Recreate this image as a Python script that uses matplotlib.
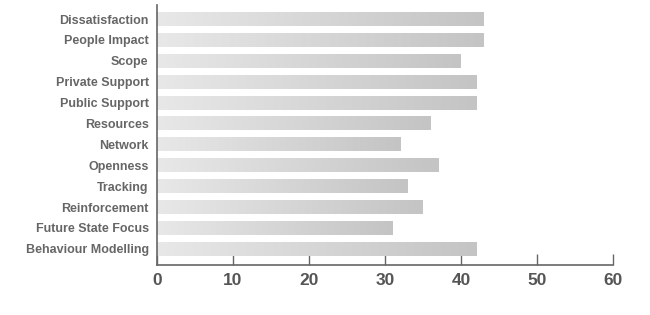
import numpy as np
import matplotlib
matplotlib.use("Agg")
import matplotlib.pyplot as plt
from matplotlib.colors import LinearSegmentedColormap

plt.rcParams['font.family'] = ['Liberation Sans', 'DejaVu Sans']

categories = ['Dissatisfaction', 'People Impact', 'Scope', 'Private Support',
              'Public Support', 'Resources', 'Network', 'Openness', 'Tracking',
              'Reinforcement', 'Future State Focus', 'Behaviour Modelling']
values = [43, 43, 40, 42, 42, 36, 32, 37, 33, 35, 31, 42]
x_ticks = [0, 10, 20, 30, 40, 50, 60]

fig = plt.figure(figsize=(6.5, 3.15), dpi=100)
ax = fig.add_axes([0.2415, 0.159, 0.7015, 0.825])

y = np.arange(len(categories))
bars = ax.barh(y, values, height=0.67, color='none', edgecolor='none')

# per-bar horizontal gradient, light on the left, darker on the right
grad_cmap = LinearSegmentedColormap.from_list('g', ['#e8e8e8', '#c4c4c4'])
grad = np.linspace(0, 1, 256).reshape(1, -1)
for bar in bars:
    x0, y0 = bar.get_x(), bar.get_y()
    w, h = bar.get_width(), bar.get_height()
    im = ax.imshow(grad, cmap=grad_cmap, aspect='auto',
                   extent=[x0, x0 + w, y0 + h, y0], zorder=2)
    im.set_clip_path(bar)

ax.set_xlim(0, 60)
ax.set_ylim(len(categories) - 1 + 0.77, -0.67)
ax.set_xticks(x_ticks)
ax.set_yticks(y)
ax.set_yticklabels(categories, fontsize=9, fontweight='bold', color='#666666')
ax.set_xticklabels([str(t) for t in x_ticks], fontsize=12.5, fontweight='bold',
                   color='#555555')

for s in ['top', 'right']:
    ax.spines[s].set_visible(False)
for s in ['left', 'bottom']:
    ax.spines[s].set_color('#666666')
    ax.spines[s].set_linewidth(1.2)

ax.tick_params(axis='y', length=0, pad=6)
ax.tick_params(axis='x', direction='in', length=8, color='#666666', width=1, pad=6)

plt.savefig('out.png', dpi=100)
